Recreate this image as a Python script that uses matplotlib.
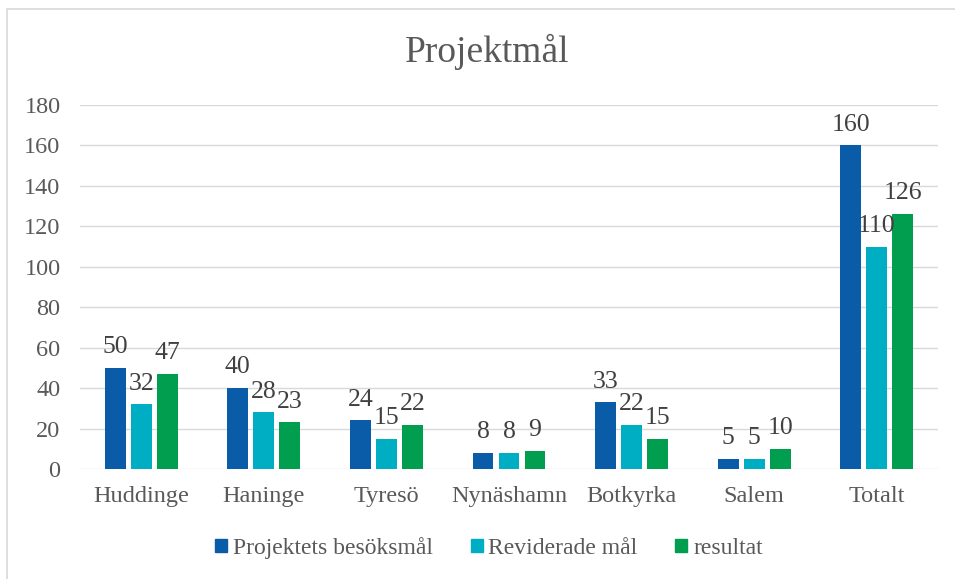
import matplotlib
matplotlib.use('Agg')
import matplotlib.pyplot as plt
import numpy as np
from matplotlib.patches import Rectangle

plt.rcParams['font.family'] = ['Liberation Serif', 'DejaVu Serif']

categories = ['Huddinge', 'Haninge', 'Tyresö', 'Nynäshamn', 'Botkyrka', 'Salem', 'Totalt']
besoksmal = [50, 40, 24, 8, 33, 5, 160]
reviderade = [32, 28, 15, 8, 22, 5, 110]
resultat = [47, 23, 22, 9, 15, 10, 126]
series_names = ['Projektets besöksmål', 'Reviderade mål', 'resultat']
colors = ['#0A5BA8', '#00AEC3', '#009E4E']
text_col = '#595959'

fig = plt.figure(figsize=(9.55, 5.79), dpi=100)
W, H = 955, 579
ax = fig.add_axes([80 / W, 1 - 469 / H, (938 - 80) / W, (469 - 105) / H])

x = np.arange(len(categories))
width = 0.171
step = 0.212
for i, (vals, name, c) in enumerate(zip([besoksmal, reviderade, resultat], series_names, colors)):
    bars = ax.bar(x + (i - 1) * step, vals, width, color=c, label=name, zorder=3)
    for b, v in zip(bars, vals):
        ax.annotate(str(v), (b.get_x() + b.get_width() / 2, v), xytext=(0, 7),
                    textcoords='offset points', ha='center', va='bottom',
                    fontsize=18.5, color='#404040', zorder=4)

ax.set_xlim(-0.5, len(categories) - 0.5)
ax.set_ylim(0, 180)
ax.set_yticks(range(0, 181, 20))
ax.set_xticks(x)
ax.set_xticklabels(categories)
ax.grid(axis='y', color='#D9D9D9', linewidth=1, zorder=0)
for s in ax.spines.values():
    s.set_visible(False)
ax.tick_params(axis='both', length=0, labelsize=17.5, colors=text_col)
ax.tick_params(axis='y', pad=14)
ax.tick_params(axis='x', pad=12)

fig.text(487 / W, 1 - 52 / H, 'Projektmål', ha='center', va='center', fontsize=27, color=text_col)

handles = [Rectangle((0, 0), 1, 1, color=c) for c in colors]
leg = fig.legend(handles, series_names, loc='center', bbox_to_anchor=(489 / W, 1 - 548 / H),
                 ncol=3, frameon=False, fontsize=17, handlelength=0.5, handleheight=0.5,
                 handletextpad=0.25, columnspacing=1.6)
for t in leg.get_texts():
    t.set_color(text_col)

fig.patches.append(Rectangle((7 / W, -0.01), 1, 1 - 9 / H + 0.01, transform=fig.transFigure,
                             fill=False, edgecolor='#D9D9D9', linewidth=1.2))

fig.savefig('out.png', dpi=100)
